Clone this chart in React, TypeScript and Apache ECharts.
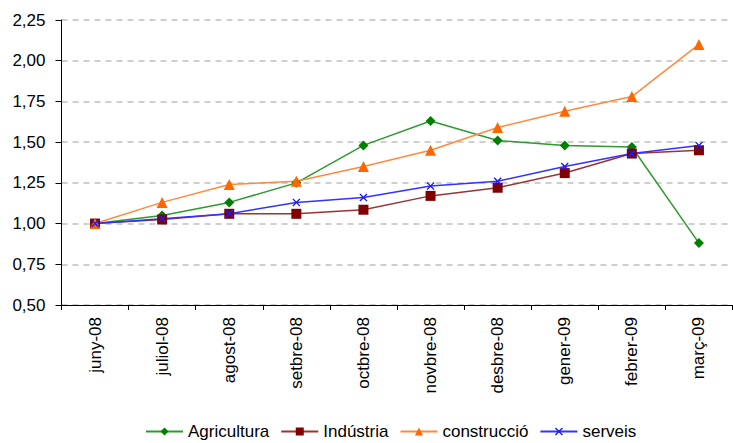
import React, { useEffect, useRef } from "react";
import * as echarts from "echarts";

const categories = ["juny-08", "juliol-08", "agost-08", "setbre-08", "octbre-08", "novbre-08", "desbre-08", "gener-09", "febrer-09", "març-09"];
const agricultura = [1.0, 1.05, 1.13, 1.25, 1.48, 1.63, 1.51, 1.48, 1.47, 0.88];
const industria = [1.0, 1.025, 1.06, 1.06, 1.085, 1.17, 1.22, 1.31, 1.43, 1.45];
const construccio = [1.0, 1.13, 1.24, 1.26, 1.35, 1.45, 1.59, 1.69, 1.78, 2.1];
const serveis = [1.0, 1.03, 1.06, 1.13, 1.16, 1.23, 1.26, 1.35, 1.43, 1.48];
const yTicks = { min: 0.5, max: 2.25, interval: 0.25 };

const xSymbol = "path://M0,1.2L1.2,0L5,3.8L8.8,0L10,1.2L6.2,5L10,8.8L8.8,10L5,6.2L1.2,10L0,8.8L3.8,5Z";

export default function App() {
  const ref = useRef<HTMLDivElement>(null);
  useEffect(() => {
    if (!ref.current) return;
    const chart = echarts.init(ref.current, undefined, { renderer: "svg" });
    const font = "Liberation Sans, Arial, sans-serif";
    const mk = (name: string, data: number[], color: string, lineColor: string, symbol: string, size: number) => ({
      name,
      type: "line",
      data,
      symbol,
      symbolSize: size,
      itemStyle: { color },
      lineStyle: { color: lineColor, width: 1.5 },
      emphasis: { disabled: true },
    });
    chart.setOption({
      animation: false,
      backgroundColor: "#ffffff",
      grid: { left: 61.5, right: 0.5, top: 20, bottom: 138, containLabel: false },
      legend: {
        left: 145,
        top: 422,
        padding: 0,
        itemWidth: 37,
        itemHeight: 10,
        itemGap: 11,
        textStyle: { fontFamily: font, fontSize: 17, lineHeight: 19, color: "#000" },
        data: ["Agricultura", "Indústria", "construcció", "serveis"],
      },
      xAxis: {
        type: "category",
        data: categories,
        boundaryGap: true,
        axisLine: { lineStyle: { color: "#000", width: 1 } },
        axisTick: { show: true, length: 5, inside: false, alignWithLabel: false, lineStyle: { color: "#000" } },
        axisLabel: { rotate: 90, margin: 12, fontFamily: font, fontSize: 17, color: "#000", interval: 0 },
        splitLine: { show: false },
      },
      yAxis: {
        type: "value",
        min: yTicks.min,
        max: yTicks.max,
        interval: yTicks.interval,
        axisLine: { show: true, lineStyle: { color: "#000", width: 1 } },
        axisTick: { show: true, length: 6, lineStyle: { color: "#000" } },
        axisLabel: {
          margin: 16,
          fontFamily: font,
          fontSize: 17,
          color: "#000",
          formatter: (v: number) => v.toFixed(2).replace(".", ","),
        },
        splitLine: { show: true, lineStyle: { color: "#c0c0c0", type: [6, 5], width: 1.5 } },
      },
      series: [
        mk("Agricultura", agricultura, "#007f00", "#2f9a2f", "diamond", 10),
        mk("Indústria", industria, "#800000", "#9a3333", "rect", 10),
        mk("construcció", construccio, "#ff6600", "#ff8a3d", "triangle", 11),
        mk("serveis", serveis, "#1a1aff", "#3333ff", xSymbol, 8),
      ],
    });
    return () => chart.dispose();
  }, []);
  return <div ref={ref} style={{ position: "fixed", left: 0, top: 0, width: 733, height: 443 }} />;
}
